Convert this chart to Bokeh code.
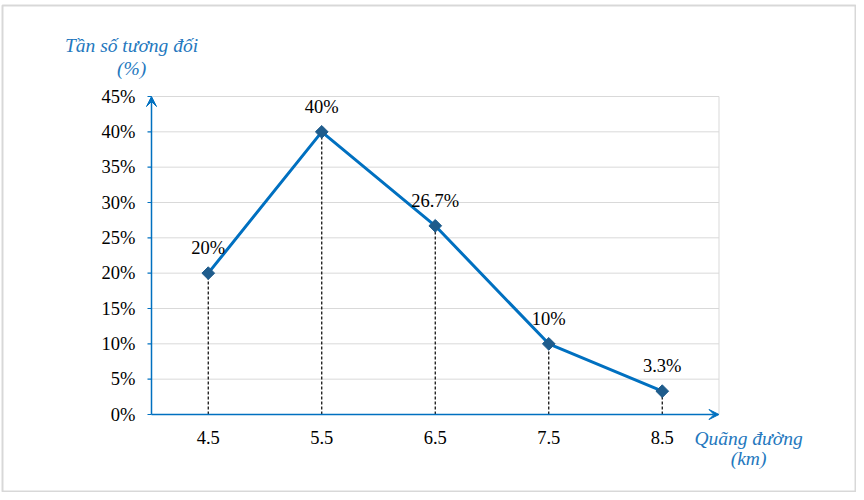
import numpy as np
from bokeh.plotting import figure
from bokeh.models import Arrow, VeeHead, BoxAnnotation, ColumnDataSource
from bokeh.core.properties import value
from bokeh.embed import file_html
from bokeh.resources import INLINE

# data
distances = [4.5, 5.5, 6.5, 7.5, 8.5]
freq_pct = [20, 40, 26.7, 10, 3.3]
point_labels = ["20%", "40%", "26.7%", "10%", "3.3%"]
y_ticks = [0, 5, 10, 15, 20, 25, 30, 35, 40, 45]
y_tick_labels = [f"{t}%" for t in y_ticks]
x_tick_labels = ["4.5", "5.5", "6.5", "7.5", "8.5"]
y_title = ["Tần số tương đối", "(%)"]
x_title = ["Quãng đường", "(km)"]

X_MIN, X_MAX = 4, 9      # category axis span
Y_MIN, Y_MAX = 0, 45

BLUE = "#0070C0"
TITLE_BLUE = "#2478BE"
MARK = "#1F5C8C"
GRID = "#D9D9D9"
SERIF = "Liberation Serif"

W, H = 856, 492
PX_X = 113.5            # px per x unit
PX_Y = 318 / 45         # px per y unit
x0 = X_MIN - 151 / PX_X
y0 = Y_MIN - (H - 414) / PX_Y
TICK = 4 / PX_X

p = figure(width=W, height=H, x_range=(x0, x0 + W / PX_X),
           y_range=(y0, y0 + H / PX_Y),
           x_axis_type=None, y_axis_type=None,
           output_backend="svg", toolbar_location=None,
           min_border=0)
p.background_fill_color = "white"
p.border_fill_color = "white"
p.outline_line_color = None
p.grid.visible = False

# gridlines and right frame edge
gy = [t for t in y_ticks if t > Y_MIN]
p.segment(x0=[X_MIN] * len(gy), y0=gy, x1=[X_MAX] * len(gy), y1=gy,
          line_color=GRID, line_width=1)
p.segment(x0=[X_MAX], y0=[Y_MIN], x1=[X_MAX], y1=[Y_MAX],
          line_color=GRID, line_width=1)

# y ticks and tick labels
p.segment(x0=[X_MIN - TICK] * len(y_ticks), y0=y_ticks,
          x1=[X_MIN] * len(y_ticks), y1=y_ticks,
          line_color=BLUE, line_width=1.2)
p.text(x=[X_MIN] * len(y_ticks), y=y_ticks, text=y_tick_labels,
       x_offset=-16, text_align="right", text_baseline="middle",
       text_font=value(SERIF), text_font_size="18.5px", text_color="black")

# x tick labels
p.text(x=distances, y=[Y_MIN] * len(distances), text=x_tick_labels,
       y_offset=23, text_align="center", text_baseline="middle",
       text_font=value(SERIF), text_font_size="18.5px", text_color="black")

src = ColumnDataSource(dict(x=distances, y=freq_pct, lab=point_labels,
                            zero=[Y_MIN] * len(distances)))

# dashed drop lines
p.segment(x0="x", y0="zero", x1="x", y1="y", source=src,
          line_color="black", line_width=1.2, line_dash="3 2")

# axis arrows
p.add_layout(Arrow(end=VeeHead(size=10, fill_color=BLUE, line_color=BLUE, line_width=1),
                   x_start=X_MIN, y_start=Y_MIN, x_end=X_MAX, y_end=Y_MIN,
                   line_color=BLUE, line_width=1.5))
p.add_layout(Arrow(end=VeeHead(size=10, fill_color=BLUE, line_color=BLUE, line_width=1),
                   x_start=X_MIN, y_start=Y_MIN, x_end=X_MIN, y_end=Y_MAX,
                   line_color=BLUE, line_width=1.5))

# polygon line
p.line("x", "y", source=src, line_color=BLUE, line_width=3)

# markers
p.scatter("x", "y", source=src, marker="square", angle=np.pi / 4, size=9,
          fill_color=MARK, line_color=MARK)

# point labels
p.text("x", "y", text="lab", source=src, text_align="center",
       text_baseline="middle", y_offset=-25, text_font_size="18.5px",
       text_color="black", text_font=value(SERIF))

# axis titles
p.text(x=[3.824, 3.824], y=[52.2, 48.95], text=y_title,
       text_align="center", text_baseline="middle",
       text_font=value(SERIF), text_font_style="italic",
       text_font_size="19.5px", text_color=TITLE_BLUE)
p.text(x=[9.26, 9.26], y=[-3.4, -6.25], text=x_title,
       text_align="center", text_baseline="middle",
       text_font=value(SERIF), text_font_style="italic",
       text_font_size="19.5px", text_color=TITLE_BLUE)

# outer border
p.add_layout(BoxAnnotation(left=2, right=W - 1, top=5, bottom=H - 1,
                           left_units="canvas", right_units="canvas",
                           top_units="canvas", bottom_units="canvas",
                           fill_color=None, fill_alpha=0, line_color="#7F7F7F",
                           line_width=2, level="overlay"))

open("out.html", "w").write(file_html(p, INLINE))
